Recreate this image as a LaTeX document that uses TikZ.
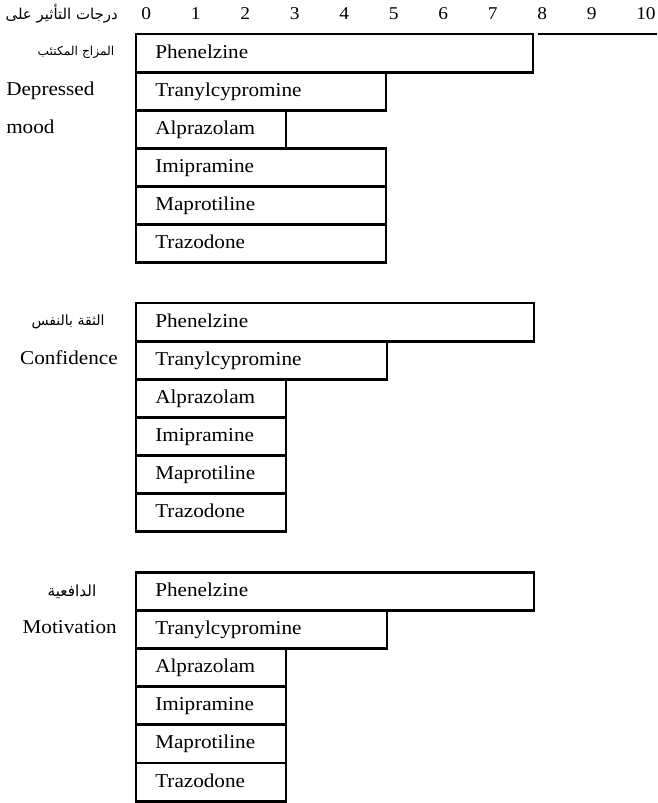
\documentclass[tikz,border=0pt]{standalone}
\usepackage{fontspec}
\setmainfont{Liberation Serif}[FakeStretch=1.08]
\newfontfamily\arabicfont[Script=Arabic]{DejaVu Sans}
\TeXXeTstate=1
\begin{document}
\begin{tikzpicture}[x=0.75pt,y=-0.75pt,
  rowbox/.style={draw, line width=2.2pt, rectangle, inner sep=0pt, outer sep=0pt,
    minimum height=28.575pt, anchor=north west},
  rowtext/.style={anchor=base west, inner sep=0pt, font=\fontsize{14.7pt}{17pt}\selectfont},
  lab/.style={inner sep=0pt, font=\fontsize{14.7pt}{17pt}\selectfont},
  arlab/.style={inner sep=0pt, font=\fontsize{10pt}{12pt}\arabicfont},
  num/.style={anchor=west, inner sep=0pt, font=\fontsize{13.5pt}{16pt}\selectfont},
  rule/.style={line width=2.2pt}]
\useasboundingbox (0,0) rectangle (657,803);

% header
\node[arlab, anchor=east, font=\fontsize{11.2pt}{13pt}\arabicfont] (hdr) at (118,14) {\beginR درجات التأثير على\endR};
\foreach \k in {0,...,10} {
  \node[num] (n\k) at ({141+49.5*\k},14) {\k};
}

% groups
\foreach \g/\gtop in {1/34, 2/303, 3/572.5} {
  \ifnum\g=1
    \def\rows{Phenelzine/533,Tranylcypromine/386,Alprazolam/286,Imipramine/386,Maprotiline/386,Trazodone/386}
  \else
    \def\rows{Phenelzine/534,Tranylcypromine/387,Alprazolam/286,Imipramine/286,Maprotiline/286,Trazodone/286}
  \fi
  \foreach \name/\r [count=\i from 0] in \rows {
    \pgfmathsetmacro\bw{(\r-136)*0.75}
    \node[rowbox, minimum width=\bw pt] (b\g-\i) at (136,{\gtop+38.1*\i}) {};
    \node[rowtext] (t\g-\i) at (155,{\gtop+38.1*\i+24}) {\name};
  }
}

% extension of the top rule
\coordinate (ext1) at (538,34);
\coordinate (ext2) at (657,34);
\draw[rule] (ext1) -- (ext2);

% group labels
\node[arlab, font=\fontsize{9.2pt}{11pt}\arabicfont] (ar1) at (76,52) {\beginR المزاج المكتئب\endR};
\node[lab, anchor=base west] (l1a) at (6,95) {Depressed};
\node[lab, anchor=base west] (l1b) at (6,133) {mood};

\node[arlab, font=\fontsize{10.5pt}{12pt}\arabicfont] (ar2) at (68,322) {\beginR الثقة بالنفس\endR};
\node[lab, anchor=base east] (l2) at (118,364) {Confidence};

\node[arlab, font=\fontsize{11.5pt}{13pt}\arabicfont] (ar3) at (72,592) {\beginR الدافعية\endR};
\node[lab, anchor=base east] (l3) at (117,633) {Motivation};
\end{tikzpicture}
\end{document}
